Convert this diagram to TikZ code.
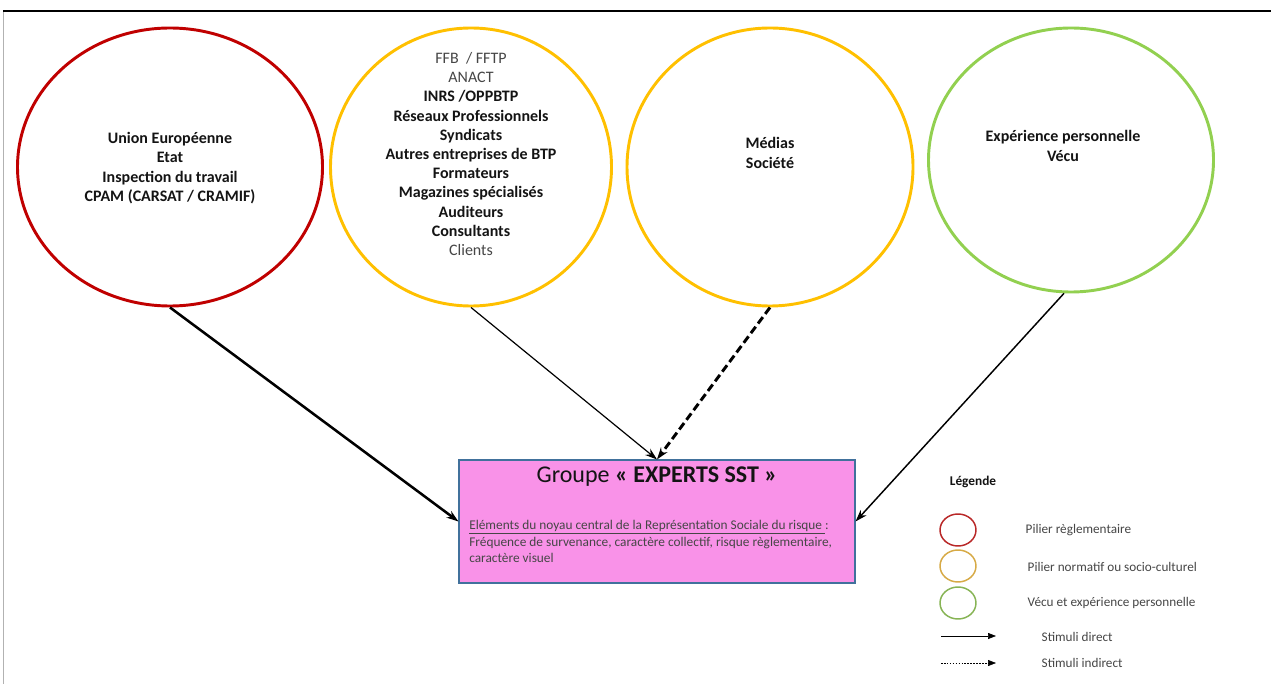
\documentclass[tikz,border=0pt]{standalone}
\usepackage{fontspec}
\setmainfont{Carlito}
\usetikzlibrary{shapes.geometric,arrows.meta}
\definecolor{cred}{RGB}{192,0,0}
\definecolor{cyel}{RGB}{255,192,0}
\definecolor{cgrn}{RGB}{146,208,80}
\definecolor{lred}{RGB}{185,40,40}
\definecolor{lyel}{RGB}{215,170,70}
\definecolor{lgrn}{RGB}{135,180,85}
\definecolor{cpink}{RGB}{249,146,232}
\definecolor{cbord}{RGB}{65,113,156}
\definecolor{cgray}{RGB}{70,70,70}
\definecolor{ctxt}{RGB}{20,20,20}
\begin{document}
\begin{tikzpicture}[x=0.75pt,y=-0.75pt,
  pillar/.style={ellipse,line width=2.2pt,inner sep=0pt},
  ctext/.style={align=center,text=ctxt,font=\fontsize{12pt}{14.4pt}\selectfont\bfseries},
  legc/.style={ellipse,line width=1.1pt,minimum width=27pt,minimum height=24pt,inner sep=0pt},
  legt/.style={anchor=west,text=cgray,font=\fontsize{9.9pt}{12pt}\selectfont},
  direct/.style={-{Stealth[length=9pt,width=6pt]},black},
  legarrow/.style={-{Triangle[length=6pt,width=4.5pt]},black,line width=0.5pt}]
\useasboundingbox (0,0) rectangle (1271,684);
\fill[white] (0,0) rectangle (1271,684);
\draw[line width=1.5pt] (3,11.5) -- (1271,11.5);
\draw[gray!60,line width=0.75pt] (3,12.5) -- (3,684);

% pillars
\node[pillar,draw=cred,minimum width=228.75pt,minimum height=208.5pt] (c1) at (170,167) {};
\node[pillar,draw=cyel,minimum width=210.75pt,minimum height=208.5pt] (c2) at (471,167) {};
\node[pillar,draw=cyel,minimum width=214.5pt,minimum height=208.5pt] (c3) at (770,167) {};
\node[pillar,draw=cgrn,minimum width=213.75pt,minimum height=198pt] (c4) at (1071,160) {};

\node[ctext] (t1) at (170,168) {Union Européenne\\Etat\\Inspection du travail\\CPAM (CARSAT / CRAMIF)};
\node[ctext] (t2) at (471,154) {{\mdseries\color{cgray}FFB~ / FFTP}\\{\mdseries\color{cgray}ANACT}\\INRS /OPPBTP\\Réseaux Professionnels\\Syndicats\\Autres entreprises de BTP\\Formateurs\\Magazines spécialisés\\Auditeurs\\Consultants\\{\mdseries\color{cgray}Clients}};
\node[ctext] (t3) at (770,153) {Médias\\Société};
\node[ctext] (t4) at (1063,146) {Expérience personnelle\\Vécu};

% central box
\node[draw=cbord,fill=cpink,line width=0.8pt,minimum width=297pt,minimum height=92.25pt,inner sep=0pt] (box) at (657,521.5) {};
\node[text=ctxt,font=\fontsize{18pt}{21pt}\selectfont] (title) at (657,477) {Groupe \textbf{« EXPERTS SST »}};
\node[anchor=north west,align=left,text=cgray,inner sep=0pt,font=\fontsize{10pt}{12.4pt}\selectfont] (body) at (469,520) {\underline{Eléments du noyau central de la Représentation Sociale du risque }:\\Fréquence de survenance, caractère collectif, risque règlementaire,\\caractère visuel};

% connectors
\draw[direct,line width=1.9pt] (c1.south) -- (box.west);
\draw[direct,line width=0.9pt] (c2.south) -- (box.north);
\draw[direct,line width=2.2pt,dash pattern=on 6pt off 3pt] (c3.south) -- (box.north);
\draw[direct,line width=1.1pt] (c4.-93) -- (box.east);

% legend
\node[font=\fontsize{10pt}{12pt}\selectfont\bfseries,text=ctxt] (lg) at (973,482) {Légende};
\node[legc,draw=lred] (l1) at (958,530) {};
\node[legc,draw=lyel] (l2) at (958,566) {};
\node[legc,draw=lgrn] (l3) at (958,603) {};
\node[legt] (lt1) at (1021,530) {Pilier règlementaire};
\node[legt] (lt2) at (1023,567) {Pilier normatif ou socio-culturel};
\node[legt] (lt3) at (1023,603) {Vécu et expérience personnelle};
\coordinate (a1) at (941,636);
\coordinate (a2) at (996,636);
\coordinate (b1) at (941,663);
\coordinate (b2) at (996,663);
\draw[legarrow] (a1) -- (a2);
\draw[legarrow,dash pattern=on 1.2pt off 1pt,line width=0.4pt] (b1) -- (b2);
\node[legt] (lt4) at (1037,637) {Stimuli direct};
\node[legt] (lt5) at (1037,663) {Stimuli indirect};
\end{tikzpicture}
\end{document}
